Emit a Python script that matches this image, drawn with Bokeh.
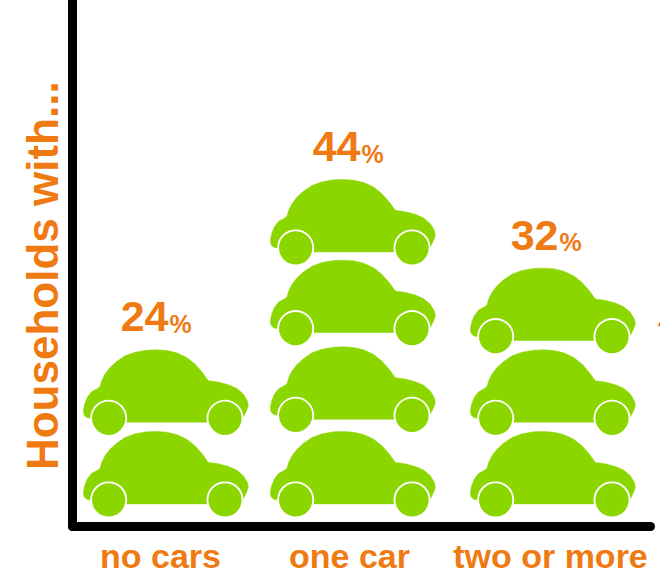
from bokeh.embed import file_html
from bokeh.models import FixedTicker, Range1d
from bokeh.plotting import figure
from bokeh.resources import INLINE
from bokeh.core.properties import value

# --- data -------------------------------------------------------------
categories = ["no cars", "one car", "two or more"]
percent = [24, 44, 32]
cars = [2, 4, 3]
y_title = "Households with..."

# --- layout and style -------------------------------------------------
W, H = 660, 577
LEFT, BOTTOM = 72, 49
ORANGE = "#F07A12"
GREEN = "#8CD600"
FONT = "Liberation Sans"
car_centres = [93.5, 280.5, 480.5]
label_centres = [88, 277, 478]
# wheel-bottom height of each car in a stack, bottom up
car_bases = [[10, 92], [10, 95, 182, 263], [10, 92, 174]]

# Car outline, in pixels relative to the car's horizontal centre and wheel bottom
CAR_X0, CAR_Y0 = 288, 288
outline = [(42,228),(40,215),(44,195),(52,175),(65,158),(80,150),(90,143),(95,125),(105,105),
           (120,85),(140,67),(165,50),(195,39),(230,33),(260,32),(290,34),(320,41),(350,55),
           (375,75),(397,100),(415,125),(445,129),(475,137),(500,148),(520,165),(532,185),
           (535,200),(530,215),(520,235),(465,250),(116,250),(60,238),(50,236)]
body_x = [(a - CAR_X0) / 3 for a, _ in outline]
body_y = [(CAR_Y0 - b) / 3 for _, b in outline]
wheel_dx = [(116 - CAR_X0) / 3, (465 - CAR_X0) / 3]
wheel_dy = (CAR_Y0 - 238) / 3
wheel_r, arch_r = 50 / 3, 55.5 / 3
car_height = (CAR_Y0 - 32) / 3

p = figure(width=W, height=H, output_backend="svg", toolbar_location=None,
           x_range=Range1d(0, W - LEFT), y_range=Range1d(0, H - BOTTOM),
           min_border_left=LEFT, min_border_bottom=BOTTOM, min_border_top=0, min_border_right=0,
           outline_line_color=None, background_fill_color="white", border_fill_color="white")
p.grid.visible = False

# --- cars -------------------------------------------------------------
xs, ys, wx, wy = [], [], [], []
for centre, bases, n in zip(car_centres, car_bases, cars):
    for base in bases[:n]:
        xs.append([centre + v for v in body_x])
        ys.append([base + v for v in body_y])
        for dx in wheel_dx:
            wx.append(centre + dx)
            wy.append(base + wheel_dy)
p.patches(xs, ys, fill_color=GREEN, line_color=GREEN, line_width=0.5)
p.circle(wx, wy, radius=arch_r, fill_color="white", line_color=None)
p.circle(wx, wy, radius=wheel_r, fill_color=GREEN, line_color=None)

# --- value labels -----------------------------------------------------
label_dx = [2.5, 7.5, 5.5]
tops = [bases[n - 1] + car_height for bases, n in zip(car_bases, cars)]
num_x = [c + d for c, d in zip(car_centres, label_dx)]
p.text(num_x, [t + 33 for t in tops], text=[str(v) for v in percent], text_color=ORANGE, text_align="right",
       text_baseline="alphabetic", text_font=value(FONT), text_font_style="bold", text_font_size="43px")
p.text([x + 1 for x in num_x], [t + 26 for t in tops], text=["%"] * 3, text_color=ORANGE, text_align="left",
       text_baseline="alphabetic", text_font=value(FONT), text_font_style="bold", text_font_size="25px")

# --- stray marker at the right edge ------------------------------------
p.patch([585, 593, 596, 596], [201, 216, 214, 201], fill_color="#FF6A00", line_color=None)

# --- axes -------------------------------------------------------------
xa = p.xaxis[0]
xa.ticker = FixedTicker(ticks=label_centres)
xa.major_label_overrides = {t: c for t, c in zip(label_centres, categories)}
xa.bounds = (0, 578)
xa.major_tick_line_color = None
xa.minor_tick_line_color = None
xa.axis_line_color = "black"
xa.axis_line_width = 9
xa.axis_line_cap = "round"
xa.major_label_standoff = 4
xa.major_label_text_color = ORANGE
xa.major_label_text_font = FONT
xa.major_label_text_font_style = "bold"
xa.major_label_text_font_size = "34px"

ya = p.yaxis[0]
ya.ticker = FixedTicker(ticks=[])
ya.major_tick_line_color = None
ya.minor_tick_line_color = None
ya.axis_line_color = "black"
ya.axis_line_width = 9
ya.axis_line_cap = "round"
ya.axis_label = y_title + "\u00a0\u00a0"
ya.axis_label_standoff = 6
ya.axis_label_text_color = ORANGE
ya.axis_label_text_font = FONT
ya.axis_label_text_font_style = "bold"
ya.axis_label_text_font_size = "44px"

open("out.html", "w").write(file_html(p, INLINE))
